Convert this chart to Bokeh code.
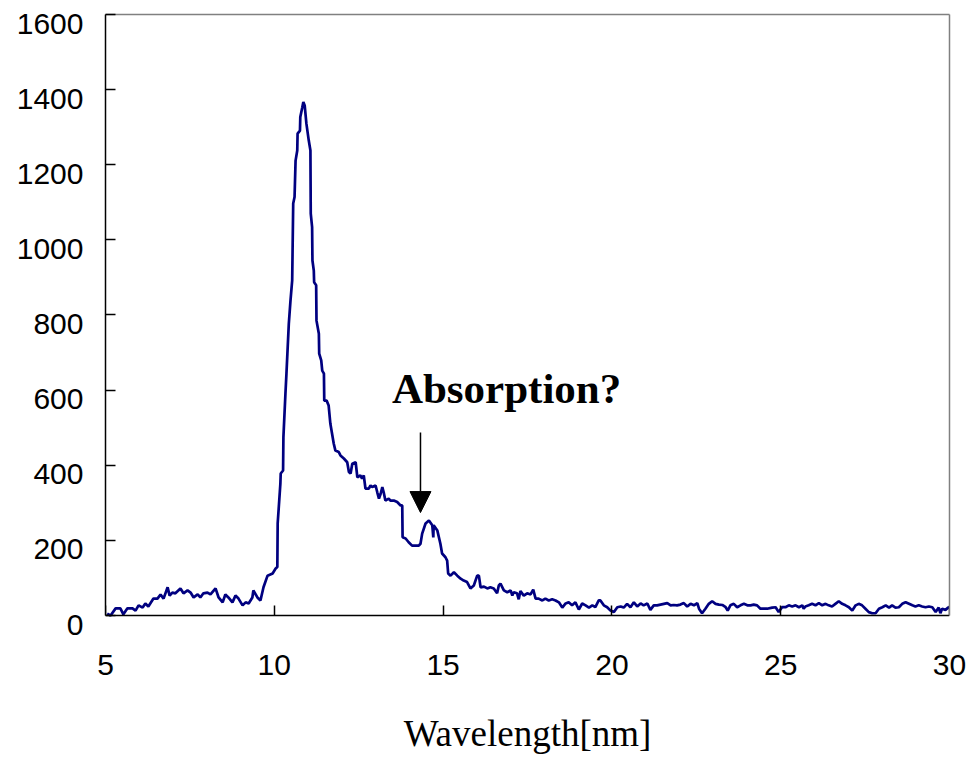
from bokeh.plotting import figure
from bokeh.models import Range1d, FixedTicker, Arrow, NormalHead, Label, LinearAxis
from bokeh.embed import file_html
from bokeh.resources import INLINE

# Wavelength [nm]
wavelength = [
    5.05, 5.15, 5.30, 5.44, 5.53, 5.65, 5.80, 5.89, 5.98, 6.10, 6.18, 6.27, 6.42, 6.54, 6.63, 6.72,
    6.84, 6.90, 6.98, 7.07, 7.22, 7.31, 7.43, 7.52, 7.61, 7.73, 7.81, 7.90, 8.02, 8.11, 8.26, 8.35,
    8.47, 8.55, 8.64, 8.76, 8.85, 8.94, 9.06, 9.15, 9.24, 9.35, 9.38, 9.50, 9.59, 9.68, 9.80, 9.95,
    10.04, 10.09,
    10.10, 10.18, 10.19, 10.26, 10.27, 10.33, 10.36, 10.43, 10.48, 10.53, 10.56, 10.60, 10.63, 10.68,
    10.69, 10.76, 10.77, 10.83, 10.86, 10.90, 10.95, 11.02, 11.07, 11.08, 11.12, 11.13, 11.17, 11.18,
    11.24, 11.25, 11.32, 11.33, 11.39, 11.42, 11.47, 11.48, 11.55, 11.61, 11.66, 11.76, 11.81, 11.91,
    11.96, 12.06, 12.16, 12.21, 12.26, 12.31, 12.41, 12.46, 12.55, 12.60, 12.65, 12.70, 12.80, 12.85,
    12.90, 13.00, 13.05, 13.10, 13.15, 13.20, 13.24, 13.29, 13.39, 13.44, 13.54, 13.64, 13.74, 13.79,
    13.80, 13.89, 13.98, 14.08, 14.18, 14.28, 14.33, 14.38, 14.48, 14.58, 14.68, 14.71, 14.72, 14.83,
    14.92, 14.97, 15.07, 15.12, 15.15, 15.22, 15.32, 15.42, 15.52, 15.61, 15.71, 15.81, 15.91, 16.01,
    16.06, 16.11, 16.21, 16.31, 16.40, 16.50, 16.60, 16.65, 16.70, 16.80, 16.90, 17.00, 17.05, 17.09,
    17.19, 17.24, 17.29, 17.39, 17.49, 17.59, 17.67, 17.74, 17.83, 17.94, 18.03, 18.13, 18.23, 18.33,
    18.43, 18.53, 18.63, 18.72, 18.82, 18.92, 19.02, 19.12, 19.22, 19.32, 19.42, 19.51, 19.61, 19.66,
    19.76, 19.86, 19.96, 20.06, 20.16, 20.26, 20.35, 20.45, 20.55, 20.65, 20.75, 20.85, 20.94, 21.05,
    21.14, 21.24, 21.34, 21.44, 21.54, 21.64, 21.74, 21.83, 21.93, 22.03, 22.13, 22.23, 22.33, 22.43,
    22.53, 22.58, 22.67, 22.77, 22.87, 22.97, 23.07, 23.17, 23.27, 23.37, 23.43, 23.51, 23.61, 23.71,
    23.81, 23.91, 24.01, 24.11, 24.20, 24.30, 24.40, 24.50, 24.60, 24.75, 24.85, 24.94, 25.04, 25.14,
    25.24, 25.34, 25.44, 25.54, 25.64, 25.68, 25.73, 25.83, 25.93, 26.03, 26.13, 26.23, 26.33, 26.42,
    26.52, 26.62, 26.72, 26.82, 26.92, 27.02, 27.12, 27.22, 27.31, 27.41, 27.51, 27.61, 27.71, 27.81,
    27.91, 28.01, 28.11, 28.21, 28.30, 28.40, 28.50, 28.60, 28.70, 28.80, 28.90, 28.99, 29.09, 29.19,
    29.29, 29.39, 29.49, 29.59, 29.68, 29.73, 29.78, 29.88, 29.96, 30.00,
]

intensity = [
    5, 0, 19, 19, 3, 19, 19, 13, 27, 21, 32, 24, 45, 45, 56, 45,
    75, 53, 61, 59, 72, 59, 67, 61, 48, 56, 48, 59, 61, 56, 72, 48,
    35, 56, 48, 35, 53, 45, 27, 35, 32, 48, 67, 48, 40, 75, 106, 112,
    125, 129,
    245, 351, 378, 386, 475, 591, 644, 777, 839, 892, 1097, 1114, 1211, 1238,
    1283, 1291, 1327, 1353, 1367, 1358, 1310, 1265, 1238, 1070, 1034, 945, 918, 887,
    879, 785, 750, 697, 679, 652, 644, 572, 572, 559, 511, 458, 439, 435,
    426, 418, 408, 382, 378, 404, 408, 368, 373, 364, 373, 338, 338, 346,
    342, 346, 328, 311, 324, 342, 328, 306, 311, 306, 306, 302, 293, 293,
    208, 205, 195, 186, 186, 186, 191, 218, 245, 253, 240, 208, 240, 226,
    191, 165, 155, 146, 112, 106, 115, 106, 98, 93, 89, 72, 80, 106,
    106, 75, 77, 72, 75, 72, 59, 80, 85, 67, 62, 67, 53, 62,
    59, 43, 65, 53, 59, 56, 69, 45, 45, 40, 45, 40, 43, 40,
    35, 21, 32, 35, 27, 35, 16, 32, 27, 21, 27, 22, 40, 40,
    27, 22, 13, 9, 22, 24, 21, 31, 22, 35, 24, 32, 27, 32,
    15, 27, 27, 29, 31, 33, 27, 28, 27, 29, 33, 24, 31, 27,
    33, 18, 6, 18, 31, 38, 31, 29, 28, 22, 13, 27, 31, 22,
    27, 31, 27, 27, 29, 27, 18, 18, 18, 21, 22, 9, 22, 22,
    27, 24, 27, 22, 27, 18, 24, 27, 31, 27, 33, 27, 31, 27,
    24, 31, 38, 31, 27, 22, 13, 27, 31, 27, 18, 9, 6, 6,
    18, 22, 27, 21, 27, 21, 22, 31, 35, 31, 27, 24, 27, 24,
    22, 24, 22, 9, 21, 6, 18, 15, 21, 22,
]

x_ticks = [5, 10, 15, 20, 25, 30]
y_ticks = [0, 200, 400, 600, 800, 1000, 1200, 1400, 1600]
x_title = "Wavelength[nm]"
note_text = "Absorption?"
note_pos = (16.88, 604)
arrow_x = 14.33
arrow_y_start = 487
arrow_y_end = 274

X_MIN, X_MAX = 5, 30
Y_MIN, Y_MAX = 0, 1600
label_drop = 24  # y tick labels sit ~9 px below their ticks in the reference

p = figure(width=971, height=759, output_backend="svg", toolbar_location=None,
           x_range=Range1d(X_MIN, X_MAX), y_range=Range1d(Y_MIN - label_drop, Y_MAX),
           min_border_left=105, min_border_right=22, min_border_top=14, min_border_bottom=135)
p.background_fill_color = "white"
p.border_fill_color = "white"
p.outline_line_color = None
p.xgrid.visible = False
p.ygrid.visible = False

p.line(wavelength, intensity, line_color="#000080", line_width=2.7)


def style_axis(ax, line_color, ticks, show_labels, standoff):
    ax.ticker = FixedTicker(ticks=ticks)
    ax.axis_line_color = line_color
    ax.axis_line_width = 1.5
    ax.major_tick_line_color = "black" if line_color == "black" else None
    ax.major_tick_line_width = 1.5
    ax.major_tick_in = 10
    ax.major_tick_out = 0
    ax.minor_tick_line_color = None
    ax.major_label_standoff = standoff
    ax.major_label_text_font = "Liberation Sans"
    if show_labels:
        ax.major_label_text_font_size = "30px"
        ax.major_label_text_color = "black"
    else:
        ax.major_label_text_font_size = "1px"
        ax.major_label_text_color = None


# main axes: line + inward ticks, drawn exactly at the data origin
style_axis(p.yaxis[0], "black", y_ticks, False, 0)
p.yaxis[0].bounds = (Y_MIN, Y_MAX)
style_axis(p.xaxis[0], "black", x_ticks, False, 0)
p.xaxis[0].fixed_location = Y_MIN

# label-only y axis (labels slightly below their ticks, as in the reference)
p.extra_y_ranges = {"ylab": Range1d(Y_MIN, Y_MAX + label_drop)}
ylab = LinearAxis(y_range_name="ylab")
style_axis(ylab, None, y_ticks, True, 22)
p.add_layout(ylab, "left")

# label-only x axis with the axis title
xlab = LinearAxis()
style_axis(xlab, None, x_ticks, True, 30)
xlab.axis_label = x_title
xlab.axis_label_text_font = "Liberation Serif"
xlab.axis_label_text_font_style = "normal"
xlab.axis_label_text_font_size = "37px"
xlab.axis_label_text_color = "black"
xlab.axis_label_standoff = 35
p.add_layout(xlab, "below")

# grey frame lines on top and right
top = LinearAxis()
style_axis(top, "#808080", [], False, 0)
p.add_layout(top, "above")
right = LinearAxis(bounds=(Y_MIN, Y_MAX))
style_axis(right, "#808080", [], False, 0)
p.add_layout(right, "right")

p.add_layout(Arrow(end=NormalHead(size=21, fill_color="black", line_color="black"),
                   x_start=arrow_x, y_start=arrow_y_start, x_end=arrow_x, y_end=arrow_y_end,
                   line_color="black", line_width=1.5))
p.add_layout(Label(x=note_pos[0], y=note_pos[1], text=note_text, text_font="Liberation Serif",
                   text_font_style="bold", text_font_size="43px", text_color="black",
                   text_align="center", text_baseline="alphabetic"))

open("out.html", "w").write(file_html(p, INLINE))
